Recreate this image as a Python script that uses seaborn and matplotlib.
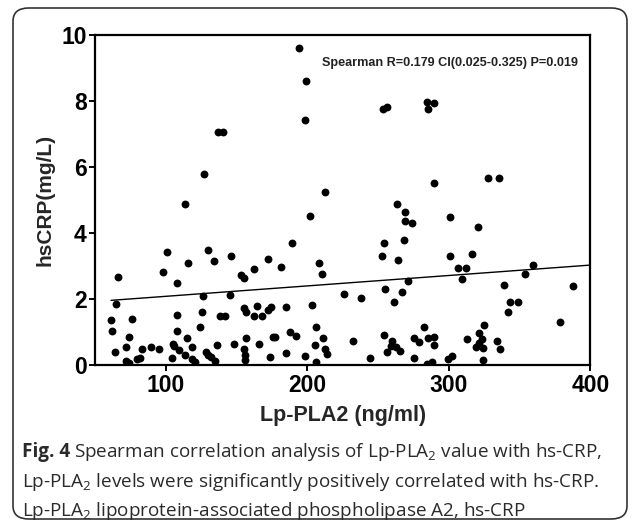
import numpy as np
import pandas as pd
import matplotlib as mpl
mpl.use("Agg")
import matplotlib.pyplot as plt
from matplotlib.patches import FancyBboxPatch
import seaborn as sns

# Lp-PLA2 (ng/ml)
lp_pla2 = [
    194.4, 199.4, 198.6, 136.6, 140.1, 126.9, 253.5, 256.3, 284.5, 289.4,
    285.2, 289.4, 327.5, 335.2, 212.5, 113.2, 66.5, 101.1, 98.3, 116.0,
    108.2, 129.9, 134.2, 146.2, 153.0, 155.1, 162.0, 126.4, 145.2, 202.1,
    189.1, 172.1, 181.1, 208.0, 210.1, 263.2, 269.4, 269.1, 274.0, 268.2,
    254.0, 253.1, 264.1, 271.2, 255.2, 267.2, 226.2, 238.2, 301.2, 321.0,
    301.2, 316.1, 306.2, 312.2, 309.2, 359.2, 354.0, 339.1, 388.0, 65.0,
    61.3, 62.2, 76.4, 74.2, 64.3, 72.1, 72.1, 74.0, 79.7, 81.6,
    83.2, 89.3, 95.5, 108.2, 108.2, 104.9, 106.1, 104.2, 109.4, 113.4,
    115.1, 118.8, 118.6, 120.9, 124.0, 125.4, 128.5, 130.1, 135.1, 131.8,
    136.3, 138.4, 142.0, 148.3, 155.6, 156.5, 155.6, 155.8, 155.8, 156.8,
    162.0, 164.6, 165.7, 168.2, 172.4, 174.0, 185.1, 203.3, 261.1, 282.5,
    175.6, 177.0, 187.5, 192.2, 173.4, 185.1, 198.3, 206.1, 211.3, 205.2,
    212.7, 214.2, 206.1, 232.1, 244.3, 254.0, 260.2, 259.0, 262.5, 256.1,
    265.3, 275.2, 275.2, 279.0, 285.0, 289.7, 289.2, 284.6, 288.0, 299.1,
    302.1, 313.2, 325.0, 321.4, 323.8, 319.1, 324.1, 324.1, 334.2, 336.1,
    342.0, 343.4, 348.6, 378.3, 321.4,
]

# hsCRP (mg/L)
hs_crp = [
    9.60, 8.60, 7.42, 7.06, 7.06, 5.79, 7.76, 7.82, 7.97, 7.94,
    7.76, 5.52, 5.67, 5.67, 5.24, 4.89, 2.66, 3.43, 2.83, 3.08,
    2.48, 3.48, 3.16, 3.31, 2.73, 2.65, 2.92, 2.10, 2.12, 4.52,
    3.69, 3.21, 2.97, 3.10, 2.77, 4.87, 4.63, 4.36, 4.31, 3.79,
    3.71, 3.32, 3.18, 2.55, 2.32, 2.22, 2.14, 2.02, 4.49, 4.18,
    3.32, 3.36, 2.95, 2.95, 2.60, 3.02, 2.75, 2.42, 2.40, 1.84,
    1.38, 1.03, 1.39, 0.85, 0.40, 0.56, 0.13, 0.07, 0.20, 0.23,
    0.48, 0.54, 0.48, 1.52, 1.04, 0.64, 0.57, 0.23, 0.47, 0.30,
    0.81, 0.55, 0.20, 0.10, 1.15, 1.61, 0.40, 0.32, 0.14, 0.25,
    0.60, 1.48, 1.48, 0.63, 1.74, 1.60, 0.50, 0.30, 0.15, 0.81,
    1.49, 1.79, 0.65, 1.49, 1.67, 1.76, 1.76, 1.81, 1.92, 1.16,
    0.86, 0.86, 0.99, 0.89, 0.24, 0.37, 0.29, 1.15, 0.83, 0.61,
    0.50, 0.35, 0.10, 0.73, 0.22, 0.90, 0.74, 0.58, 0.55, 0.40,
    0.43, 0.21, 0.83, 0.69, 0.81, 0.86, 0.61, 0.05, 0.10, 0.18,
    0.27, 0.78, 1.23, 0.98, 0.79, 0.55, 0.52, 0.15, 0.73, 0.48,
    1.62, 1.90, 1.90, 1.31, 0.68,
]

# fitted line as drawn in the figure
fit_slope = 0.00315
fit_intercept = 1.77
fit_x_end = 400

annot = "Spearman R=0.179 CI(0.025-0.325) P=0.019"
x_label = "Lp-PLA2 (ng/ml)"
y_label = "hsCRP(mg/L)"
x_ticks = [100, 200, 300, 400]
y_ticks = [0, 2, 4, 6, 8, 10]

df = pd.DataFrame({"lp": lp_pla2, "crp": hs_crp})
line_x = np.array([min(lp_pla2), fit_x_end])
line_df = pd.DataFrame({"lp": line_x, "crp": fit_intercept + fit_slope * line_x})

sns.set_style("white")
plt.rcParams["font.family"] = ["Liberation Sans", "DejaVu Sans"]
plt.rcParams["mathtext.fontset"] = "custom"
plt.rcParams["mathtext.rm"] = "Open Sans"
plt.rcParams["mathtext.bf"] = "Open Sans:bold"

fig = plt.figure(figsize=(6.34, 5.27), dpi=100)
ax = fig.add_axes([0.150, 0.307, 0.781, 0.627])

sns.scatterplot(data=df, x="lp", y="crp", ax=ax, color="black", s=32,
                edgecolor="black", linewidth=0, zorder=3)
sns.lineplot(data=line_df, x="lp", y="crp", ax=ax, color="black", lw=1.0)

ax.set_xlim(50, 400)
ax.set_ylim(0, 10)
ax.set_xticks(x_ticks)
ax.set_yticks(y_ticks)
for sp in ax.spines.values():
    sp.set_linewidth(1.6)
    sp.set_color("black")
ax.tick_params(direction="out", length=4, width=1.4, colors="black",
               left=True, bottom=True, labelsize=16.5, pad=2)
for lab in ax.get_xticklabels() + ax.get_yticklabels():
    lab.set_fontweight("bold")
ax.set_xlabel(x_label, fontsize=15.5, fontweight="bold", labelpad=6)
ax.set_ylabel(y_label, fontsize=15, fontweight="bold", labelpad=5)

ax.text(0.975, 0.915, annot, transform=ax.transAxes, ha="right", va="center",
        fontsize=9.1, fontweight="bold", color="#222222")

# rounded frame around figure + caption
box = FancyBboxPatch((13 / 634, 8 / 527), 614 / 634, 511 / 527,
                     boxstyle="round,pad=0,rounding_size=0.025",
                     transform=fig.transFigure, fill=False,
                     edgecolor="#333333", lw=1.2, zorder=0)
fig.patches.append(box)

cap_fs = 13.6
cap_col = "#2a2a2a"
x0 = 22 / 634
y1 = 1 - 452 / 527
t = fig.text(x0, y1, "Fig. 4", fontsize=cap_fs, family="Open Sans",
             fontweight="bold", color=cap_col, va="center", ha="left")
fig.canvas.draw()
bb = t.get_window_extent(renderer=fig.canvas.get_renderer())
fig.text((bb.x1 + 4) / 634, y1,
         r"Spearman correlation analysis of Lp-PLA$_2$ value with hs-CRP,",
         fontsize=cap_fs, family="Open Sans", color=cap_col, va="center", ha="left")
cap_rest = [
    r"Lp-PLA$_2$ levels were significantly positively correlated with hs-CRP.",
    r"Lp-PLA$_2$ lipoprotein-associated phospholipase A2, hs-CRP",
]
for i, line in enumerate(cap_rest):
    fig.text(x0, 1 - (482 + 29 * i) / 527, line, fontsize=cap_fs,
             family="Open Sans", color=cap_col, va="center", ha="left")

fig.savefig("out.png", dpi=100)
